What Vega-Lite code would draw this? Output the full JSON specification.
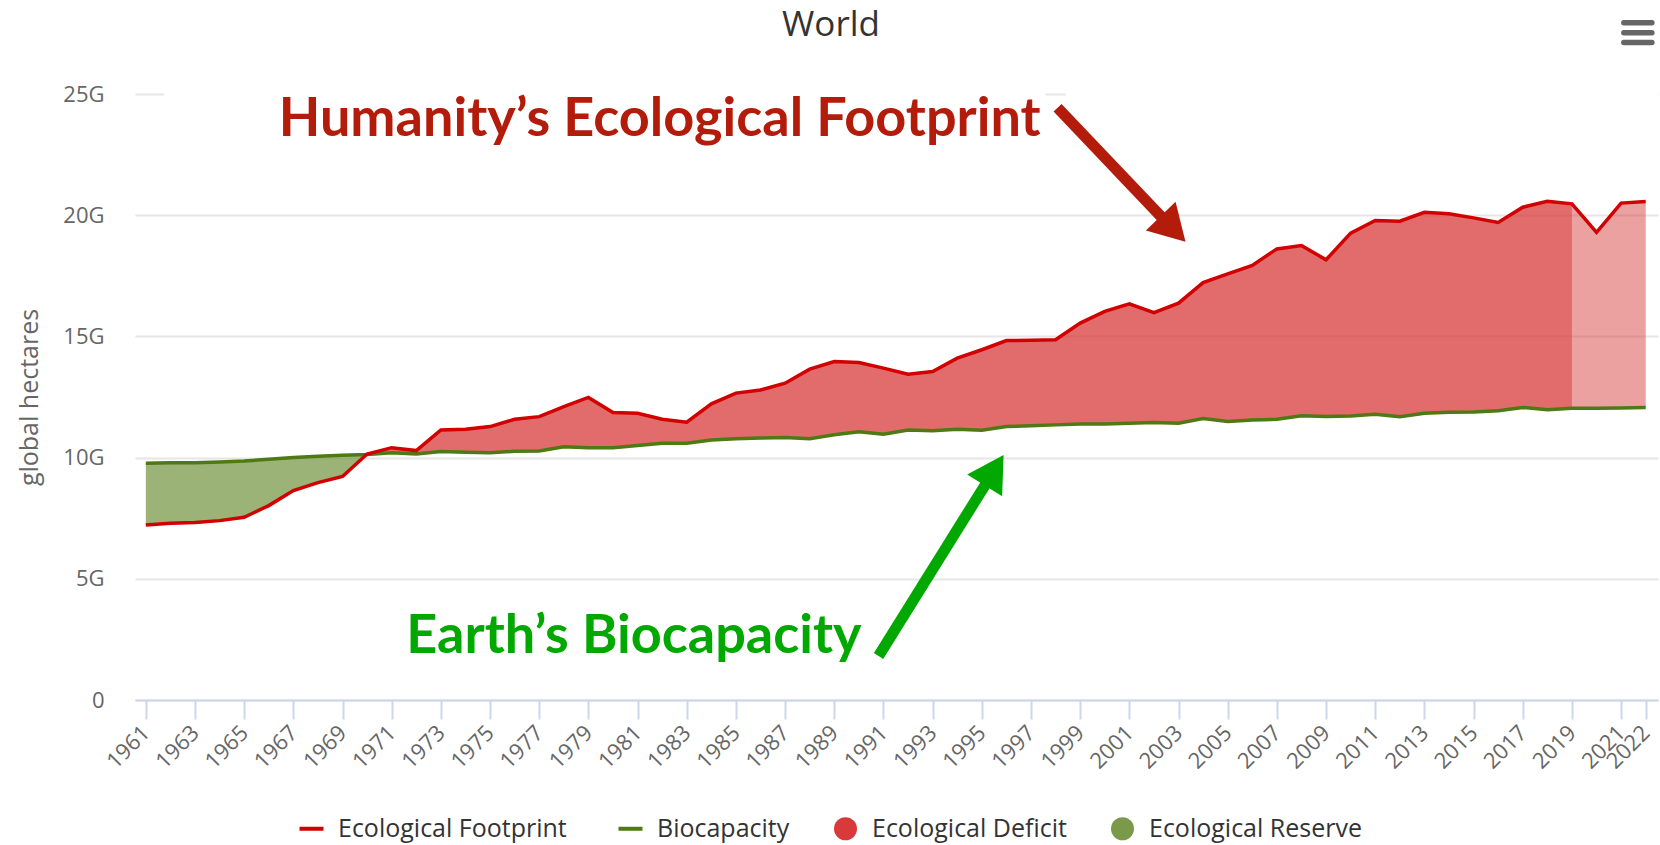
{
  "$schema": "https://vega.github.io/schema/vega-lite/v6.json",
  "width": 1523,
  "height": 606,
  "autosize": {"type": "none"},
  "padding": {"left": 135, "top": 94, "right": 2, "bottom": 145},
  "background": "white",
  "config": {
    "view": {"stroke": null},
    "font": "Open Sans"
  },
  "title": {
    "text": "World",
    "font": "Open Sans",
    "fontSize": 35,
    "fontWeight": "normal",
    "color": "#333333",
    "anchor": "middle",
    "dx": -65.5,
    "offset": -51,
    "baseline": "alphabetic"
  },
  "data": {
    "values": [
      {"year": 1961, "ef": 7.22, "bc": 9.77},
      {"year": 1962, "ef": 7.29, "bc": 9.79},
      {"year": 1963, "ef": 7.32, "bc": 9.79},
      {"year": 1964, "ef": 7.40, "bc": 9.82},
      {"year": 1965, "ef": 7.54, "bc": 9.86},
      {"year": 1966, "ef": 8.02, "bc": 9.93},
      {"year": 1967, "ef": 8.64, "bc": 10.00},
      {"year": 1968, "ef": 8.97, "bc": 10.06},
      {"year": 1969, "ef": 9.22, "bc": 10.10},
      {"year": 1970, "ef": 10.15, "bc": 10.13},
      {"year": 1971, "ef": 10.41, "bc": 10.20},
      {"year": 1972, "ef": 10.29, "bc": 10.15},
      {"year": 1973, "ef": 11.14, "bc": 10.25},
      {"year": 1974, "ef": 11.17, "bc": 10.22},
      {"year": 1975, "ef": 11.28, "bc": 10.20},
      {"year": 1976, "ef": 11.58, "bc": 10.26},
      {"year": 1977, "ef": 11.69, "bc": 10.27},
      {"year": 1978, "ef": 12.10, "bc": 10.45},
      {"year": 1979, "ef": 12.48, "bc": 10.41},
      {"year": 1980, "ef": 11.86, "bc": 10.41},
      {"year": 1981, "ef": 11.83, "bc": 10.50},
      {"year": 1982, "ef": 11.58, "bc": 10.59},
      {"year": 1983, "ef": 11.46, "bc": 10.59},
      {"year": 1984, "ef": 12.22, "bc": 10.73},
      {"year": 1985, "ef": 12.66, "bc": 10.78},
      {"year": 1986, "ef": 12.79, "bc": 10.81},
      {"year": 1987, "ef": 13.07, "bc": 10.83},
      {"year": 1988, "ef": 13.65, "bc": 10.78},
      {"year": 1989, "ef": 13.96, "bc": 10.94},
      {"year": 1990, "ef": 13.92, "bc": 11.07},
      {"year": 1991, "ef": 13.69, "bc": 10.96},
      {"year": 1992, "ef": 13.44, "bc": 11.14},
      {"year": 1993, "ef": 13.55, "bc": 11.11},
      {"year": 1994, "ef": 14.10, "bc": 11.17},
      {"year": 1995, "ef": 14.45, "bc": 11.13},
      {"year": 1996, "ef": 14.83, "bc": 11.28},
      {"year": 1997, "ef": 14.84, "bc": 11.31},
      {"year": 1998, "ef": 14.86, "bc": 11.35},
      {"year": 1999, "ef": 15.55, "bc": 11.39},
      {"year": 2000, "ef": 16.03, "bc": 11.39},
      {"year": 2001, "ef": 16.34, "bc": 11.42},
      {"year": 2002, "ef": 15.98, "bc": 11.45},
      {"year": 2003, "ef": 16.37, "bc": 11.42},
      {"year": 2004, "ef": 17.22, "bc": 11.61},
      {"year": 2005, "ef": 17.58, "bc": 11.49},
      {"year": 2006, "ef": 17.93, "bc": 11.55},
      {"year": 2007, "ef": 18.61, "bc": 11.58},
      {"year": 2008, "ef": 18.75, "bc": 11.73},
      {"year": 2009, "ef": 18.16, "bc": 11.70},
      {"year": 2010, "ef": 19.26, "bc": 11.72},
      {"year": 2011, "ef": 19.78, "bc": 11.79},
      {"year": 2012, "ef": 19.75, "bc": 11.69},
      {"year": 2013, "ef": 20.12, "bc": 11.83},
      {"year": 2014, "ef": 20.06, "bc": 11.87},
      {"year": 2015, "ef": 19.89, "bc": 11.88},
      {"year": 2016, "ef": 19.70, "bc": 11.93},
      {"year": 2017, "ef": 20.33, "bc": 12.07},
      {"year": 2018, "ef": 20.57, "bc": 11.97},
      {"year": 2019, "ef": 20.47, "bc": 12.04},
      {"year": 2020, "ef": 19.29, "bc": 12.04},
      {"year": 2021, "ef": 20.50, "bc": 12.05},
      {"year": 2022, "ef": 20.57, "bc": 12.07}
    ]
  },
  "layer": [
    {
      "transform": [{"filter": "datum.year <= 1970"}],
      "mark": {"type": "area", "fillOpacity": 0.75, "interpolate": "linear"},
      "encoding": {
        "x": {
          "field": "year",
          "type": "quantitative",
          "scale": {"domain": [1960.56, 2022.5], "nice": false, "zero": false},
          "axis": {
            "title": null,
            "values": [1961, 1963, 1965, 1967, 1969, 1971, 1973, 1975, 1977, 1979, 1981, 1983, 1985, 1987, 1989, 1991, 1993, 1995, 1997, 1999, 2001, 2003, 2005, 2007, 2009, 2011, 2013, 2015, 2017, 2019, 2021, 2022],
            "format": "d",
            "labelAngle": -45,
            "labelAlign": "right",
            "labelBaseline": "middle",
            "labelFont": "Open Sans",
            "labelFontSize": 22,
            "labelColor": "#666666",
            "labelPadding": 10,
            "labelOverlap": false,
            "labelFlush": false,
            "grid": false,
            "domain": true,
            "domainColor": "#ccd6eb",
            "domainWidth": 2,
            "ticks": true,
            "tickColor": "#ccd6eb",
            "tickWidth": 2,
            "tickSize": 19
          }
        },
        "y": {
          "field": "bc",
          "type": "quantitative",
          "scale": {"domain": [0, 25], "nice": false},
          "axis": {
            "title": "global hectares",
            "titleFont": "Open Sans",
            "titleFontSize": 25,
            "titleFontWeight": "normal",
            "titleColor": "#666666",
            "titleAngle": -90,
            "titleX": -106,
            "titleY": 303,
            "titleAlign": "center",
            "titleBaseline": "middle",
            "values": [0, 5, 10, 15, 20, 25],
            "labelExpr": "datum.value == 0 ? '0' : datum.value + 'G'",
            "labelFont": "Open Sans",
            "labelFontSize": 22,
            "labelColor": "#666666",
            "labelPadding": 31,
            "labelBaseline": "middle",
            "ticks": false,
            "domain": false,
            "grid": true,
            "gridColor": "#e6e6e6",
            "gridWidth": 2
          }
        },
        "y2": {"field": "ef"},
        "color": {
          "datum": "Ecological Reserve",
          "scale": {
            "domain": ["Ecological Footprint", "Biocapacity", "Ecological Deficit", "Ecological Reserve"],
            "range": ["#d20000", "#4d7a12", "#d83a3a", "#7a9a4a"]
          },
          "legend": {
            "title": null,
            "orient": "none",
            "legendX": 164,
            "legendY": 722,
            "direction": "horizontal",
            "columns": 4,
            "padding": 0,
            "symbolSize": 576,
            "labelOffset": 14,
            "columnPadding": 43,
            "labelFont": "Open Sans",
            "labelFontSize": 25,
            "labelColor": "#333333",
            "labelLimit": 400,
            "encode": {
              "symbols": {
                "update": {
                  "shape": {"signal": "(datum.value === 'Ecological Footprint' || datum.value === 'Biocapacity') ? 'stroke' : 'circle'"},
                  "size": {"signal": "(datum.value === 'Ecological Footprint' || datum.value === 'Biocapacity') ? 576 : 529"},
                  "stroke": {"scale": "color", "field": "value"},
                  "fill": {"scale": "color", "field": "value"},
                  "strokeWidth": {"signal": "(datum.value === 'Ecological Footprint' || datum.value === 'Biocapacity') ? 4 : 0"},
                  "opacity": {"value": 1},
                  "fillOpacity": {"value": 1},
                  "strokeOpacity": {"value": 1}
                }
              }
            }
          }
        }
      }
    },
    {
      "transform": [{"filter": "datum.year >= 1970 && datum.year <= 2019"}],
      "mark": {"type": "area", "fillOpacity": 0.75},
      "encoding": {
        "x": {"field": "year", "type": "quantitative"},
        "y": {"field": "ef", "type": "quantitative"},
        "y2": {"field": "bc"},
        "color": {"datum": "Ecological Deficit"}
      }
    },
    {
      "transform": [{"filter": "datum.year >= 2019"}],
      "mark": {"type": "area", "fillOpacity": 0.48},
      "encoding": {
        "x": {"field": "year", "type": "quantitative"},
        "y": {"field": "ef", "type": "quantitative"},
        "y2": {"field": "bc"},
        "color": {"datum": "Ecological Deficit"}
      }
    },
    {
      "mark": {"type": "line", "strokeWidth": 3.5},
      "encoding": {
        "x": {"field": "year", "type": "quantitative"},
        "y": {"field": "bc", "type": "quantitative"},
        "color": {"datum": "Biocapacity"}
      }
    },
    {
      "mark": {"type": "line", "strokeWidth": 3.5},
      "encoding": {
        "x": {"field": "year", "type": "quantitative"},
        "y": {"field": "ef", "type": "quantitative"},
        "color": {"datum": "Ecological Footprint"}
      }
    },
    {
      "data": {"values": [{}]},
      "mark": {"type": "rect", "color": "white"},
      "encoding": {
        "x": {"datum": 1961.74},
        "x2": {"datum": 1997.59},
        "y": {"datum": 23.6},
        "y2": {"datum": 25.3}
      }
    },
    {
      "data": {"values": [{}]},
      "mark": {"type": "rect", "color": "white"},
      "encoding": {
        "x": {"datum": 1998.41},
        "x2": {"datum": 2022.5},
        "y": {"datum": 23.6},
        "y2": {"datum": 25.3}
      }
    },
    {
      "data": {"values": [{}]},
      "mark": {"type": "text", "text": "Humanity’s Ecological Footprint", "font": "Lato", "fontWeight": "bold", "fontSize": 54, "color": "#b31b0b", "align": "center", "baseline": "alphabetic"},
      "encoding": {
        "x": {"datum": 1981.9},
        "y": {"datum": 23.28}
      }
    },
    {
      "data": {"values": [{}]},
      "mark": {"type": "text", "text": "Earth’s Biocapacity", "font": "Lato", "fontWeight": "bold", "fontSize": 54, "color": "#00a800", "align": "center", "baseline": "alphabetic"},
      "encoding": {
        "x": {"datum": 1980.85},
        "y": {"datum": 1.94}
      }
    },
    {
      "data": {"values": [{}]},
      "mark": {"type": "rule", "color": "#b31b0b", "strokeWidth": 11, "strokeCap": "butt"},
      "encoding": {
        "x": {"datum": 1998.08},
        "y": {"datum": 24.43},
        "x2": {"datum": 2002.36},
        "y2": {"datum": 19.87}
      }
    },
    {
      "data": {"values": [{}]},
      "mark": {"type": "point", "shape": "triangle-up", "size": 1700, "angle": 136, "filled": true, "color": "#b31b0b", "opacity": 1},
      "encoding": {
        "x": {"datum": 2002.78},
        "y": {"datum": 19.43}
      }
    },
    {
      "data": {"values": [{}]},
      "mark": {"type": "rule", "color": "#00a800", "strokeWidth": 11, "strokeCap": "butt"},
      "encoding": {
        "x": {"datum": 1990.80},
        "y": {"datum": 1.816},
        "x2": {"datum": 1995.19},
        "y2": {"datum": 8.96}
      }
    },
    {
      "data": {"values": [{}]},
      "mark": {"type": "point", "shape": "triangle-up", "size": 1700, "angle": 32, "filled": true, "color": "#00a800", "opacity": 1},
      "encoding": {
        "x": {"datum": 1995.50},
        "y": {"datum": 9.48}
      }
    },
    {
      "data": {"values": [{}]},
      "mark": {"type": "rule", "color": "#666666", "strokeWidth": 5.5, "strokeCap": "round"},
      "encoding": {
        "x": {"datum": 2021.11},
        "x2": {"datum": 2022.25},
        "y": {"datum": 27.94},
        "y2": {"datum": 27.94}
      }
    },
    {
      "data": {"values": [{}]},
      "mark": {"type": "rule", "color": "#666666", "strokeWidth": 5.5, "strokeCap": "round"},
      "encoding": {
        "x": {"datum": 2021.11},
        "x2": {"datum": 2022.25},
        "y": {"datum": 27.53},
        "y2": {"datum": 27.53}
      }
    },
    {
      "data": {"values": [{}]},
      "mark": {"type": "rule", "color": "#666666", "strokeWidth": 5.5, "strokeCap": "round"},
      "encoding": {
        "x": {"datum": 2021.11},
        "x2": {"datum": 2022.25},
        "y": {"datum": 27.12},
        "y2": {"datum": 27.12}
      }
    }
  ]
}
